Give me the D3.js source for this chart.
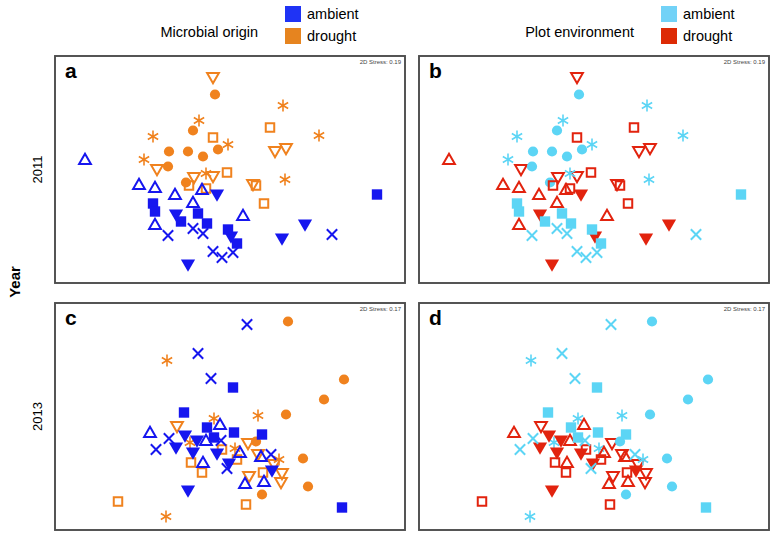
<!DOCTYPE html>
<html><head><meta charset="utf-8">
<script src="https://cdn.jsdelivr.net/npm/d3@7"></script>
<style>body{margin:0;background:#fff}svg{display:block;font-family:"Liberation Sans",Arial,sans-serif}</style>
</head><body><svg id="c" width="774" height="537"></svg>
<script>
// NMDS coordinates: [NMDS1, NMDS2, group]
const groups = ['dto','cir','ast','sqo','tri','dtf','sqf','x'];
const groupOrigin = ['drought','drought','drought','drought','ambient','ambient','ambient','ambient'];
const groupEnv    = ['drought','ambient','ambient','drought','drought','drought','ambient','ambient'];
const originColors = {ambient:'#1616ef', drought:'#f0821e'};
const envColors = {ambient:'#5cd5f5', drought:'#e2230e'};
const stress = ['0.19','0.17'];
const years = ['2011','2013'];
const legendLabels = ['ambient','drought'];

const points2011 = [
 [-0.17,0.93,'dto'],[-0.73,0.01,'dto'],[-0.36,-0.07,'dto'],[-0.17,-0.06,'dto'],[0.45,0.19,'dto'],[0.56,0.22,'dto'],[0.23,-0.14,'dto'],
 [-0.15,0.75,'cir'],[-0.37,0.39,'cir'],[-0.61,0.18,'cir'],[-0.42,0.18,'cir'],[-0.27,0.13,'cir'],[-0.12,0.20,'cir'],[-0.62,0.03,'cir'],[-0.44,-0.13,'cir'],
 [-0.31,0.49,'ast'],[-0.02,0.25,'ast'],[-0.77,0.33,'ast'],[-0.86,0.10,'ast'],[0.53,0.64,'ast'],[0.89,0.34,'ast'],[-0.24,-0.04,'ast'],[0.55,-0.10,'ast'],
 [-0.17,0.32,'sqo'],[0.40,0.42,'sqo'],[-0.03,-0.03,'sqo'],[-0.41,-0.16,'sqo'],[-0.24,-0.19,'sqo'],[0.26,-0.16,'sqo'],[0.34,-0.34,'sqo'],
 [-1.45,0.09,'tri'],[-0.91,-0.16,'tri'],[-0.75,-0.19,'tri'],[-0.55,-0.26,'tri'],[-0.28,-0.21,'tri'],[-0.37,-0.34,'tri'],[-0.75,-0.56,'tri'],[0.13,-0.47,'tri'],
 [-0.13,-0.24,'dtf'],[-0.54,-0.44,'dtf'],[0.01,-0.66,'dtf'],[-0.42,-0.94,'dtf'],[0.75,-0.54,'dtf'],[0.52,-0.68,'dtf'],
 [-0.77,-0.34,'sqf'],[-0.75,-0.42,'sqf'],[-0.49,-0.52,'sqf'],[-0.32,-0.44,'sqf'],[-0.23,-0.54,'sqf'],[-0.02,-0.60,'sqf'],[0.07,-0.74,'sqf'],[1.47,-0.25,'sqf'],
 [-0.62,-0.66,'x'],[-0.37,-0.59,'x'],[-0.27,-0.64,'x'],[-0.17,-0.82,'x'],[-0.08,-0.88,'x'],[0.03,-0.83,'x'],[1.02,-0.65,'x']
];
const points2013 = [
 [-0.53,-0.09,'dto'],[0.18,-0.26,'dto'],[0.28,-0.37,'dto'],[0.44,-0.47,'dto'],[0.52,-0.56,'dto'],[0.51,-0.65,'dto'],[0.19,-0.59,'dto'],
 [0.58,0.95,'cir'],[1.14,0.37,'cir'],[0.94,0.17,'cir'],[0.56,0.02,'cir'],[0.26,-0.25,'cir'],[0.73,-0.42,'cir'],[0.78,-0.70,'cir'],[0.32,-0.78,'cir'],
 [-0.63,0.56,'ast'],[-0.16,-0.02,'ast'],[0.28,0.01,'ast'],[-0.40,-0.26,'ast'],[0.05,-0.32,'ast'],[0.49,-0.43,'ast'],[-0.64,-1.00,'ast'],
 [-1.12,-0.85,'sqo'],[-0.08,-0.33,'sqo'],[0.07,-0.43,'sqo'],[-0.39,-0.46,'sqo'],[-0.28,-0.56,'sqo'],[0.33,-0.56,'sqo'],[0.16,-0.88,'sqo'],
 [-0.80,-0.17,'tri'],[-0.10,-0.09,'tri'],[-0.24,-0.25,'tri'],[-0.27,-0.47,'tri'],[0.10,-0.37,'tri'],[0.31,-0.41,'tri'],[0.15,-0.68,'tri'],[0.34,-0.66,'tri'],
 [-0.45,-0.18,'dtf'],[-0.54,-0.30,'dtf'],[-0.33,-0.23,'dtf'],[-0.37,-0.35,'dtf'],[-0.13,-0.36,'dtf'],[-0.01,-0.46,'dtf'],[0.42,-0.53,'dtf'],[-0.42,-0.73,'dtf'],
 [-0.46,0.04,'sqf'],[0.03,0.29,'sqf'],[-0.23,-0.11,'sqf'],[0.04,-0.16,'sqf'],[0.32,-0.18,'sqf'],[-0.16,-0.21,'sqf'],[1.12,-0.91,'sqf'],
 [-0.32,0.63,'x'],[0.17,0.92,'x'],[-0.19,0.38,'x'],[-0.61,-0.22,'x'],[-0.74,-0.33,'x'],[-0.09,-0.24,'x'],[-0.03,-0.52,'x'],[0.41,-0.38,'x']
];

const svg = d3.select('#c');
const panelW = 350, panelH = 227;
const colX = [55, 419], rowY = [56, 303];
const xDomain = [-1.75, 1.75], yDomain = [-1.135, 1.135];

const symDefs = {
  dto:{type:d3.symbolTriangle,size:60,fill:false,rot:180},
  cir:{type:d3.symbolCircle,size:82,fill:true,rot:0},
  ast:{type:d3.symbolAsterisk,size:100,fill:false,rot:0,thin:true},
  sqo:{type:d3.symbolSquare,size:72,fill:false,rot:0},
  tri:{type:d3.symbolTriangle,size:60,fill:false,rot:0},
  dtf:{type:d3.symbolTriangle,size:88,fill:true,rot:180},
  sqf:{type:d3.symbolSquare,size:108,fill:true,rot:0},
  x:{type:d3.symbolTimes,size:72,fill:false,rot:0}
};

function panel(col,row,data,colorBy,letter,st){
  const x0 = colX[col], y0 = rowY[row];
  const xs = d3.scaleLinear().domain(xDomain).range([x0, x0+panelW]);
  const ys = d3.scaleLinear().domain(yDomain).range([y0+panelH, y0]);
  const g = svg.append('g');
  g.append('rect').attr('x',x0).attr('y',y0).attr('width',panelW).attr('height',panelH)
    .attr('fill','#fff').attr('stroke','#4d4d4d').attr('stroke-width',1.9);
  g.append('text').attr('x',x0+10).attr('y',y0+22).attr('font-size',21).attr('font-weight','bold').text(letter);
  g.append('text').attr('x',x0+panelW-4).attr('y',y0+8).attr('font-size',6).attr('fill','#444')
    .attr('text-anchor','end').text('2D Stress: '+st);
  g.selectAll('path.pt').data(data).join('path').attr('class','pt')
    .attr('transform',d=>`translate(${xs(d[0])},${ys(d[1])}) rotate(${symDefs[d[2]].rot})`)
    .attr('d',d=>d3.symbol(symDefs[d[2]].type, symDefs[d[2]].size)())
    .each(function(d){
      const gi = groups.indexOf(d[2]);
      const c = colorBy==='origin' ? originColors[groupOrigin[gi]] : envColors[groupEnv[gi]];
      const s = symDefs[d[2]];
      d3.select(this).attr('fill', s.fill ? c : 'none').attr('stroke', s.fill ? 'none' : c)
        .attr('stroke-width', s.thin ? 1.6 : 2);
    });
}
panel(0,0,points2011,'origin','a',stress[0]);
panel(1,0,points2011,'env','b',stress[0]);
panel(0,1,points2013,'origin','c',stress[1]);
panel(1,1,points2013,'env','d',stress[1]);

// Legends
function legend(x, title, colors){
  svg.append('text').attr('x',x-27).attr('y',37).attr('font-size',14.5).attr('text-anchor','end').text(title);
  legendLabels.forEach((l,i)=>{
    svg.append('rect').attr('x',x).attr('y',6+i*22).attr('width',16).attr('height',16).attr('fill',colors[l]);
    svg.append('text').attr('x',x+22).attr('y',19+i*22).attr('font-size',14.5).text(l);
  });
}
legend(285, 'Microbial origin', {ambient:'#1f33f5', drought:'#e6841f'});
legend(661, 'Plot environment', {ambient:'#72d2f7', drought:'#dd2a05'});

// Axis labels
svg.append('text').attr('transform','translate(20,282) rotate(-90)').attr('text-anchor','middle')
  .attr('font-size',15).attr('font-weight','bold').text('Year');
years.forEach((y,i)=>{
  svg.append('text').attr('transform',`translate(42,${rowY[i]+panelH/2}) rotate(-90)`).attr('text-anchor','middle')
    .attr('font-size',13).text(y);
});
</script></body></html>
